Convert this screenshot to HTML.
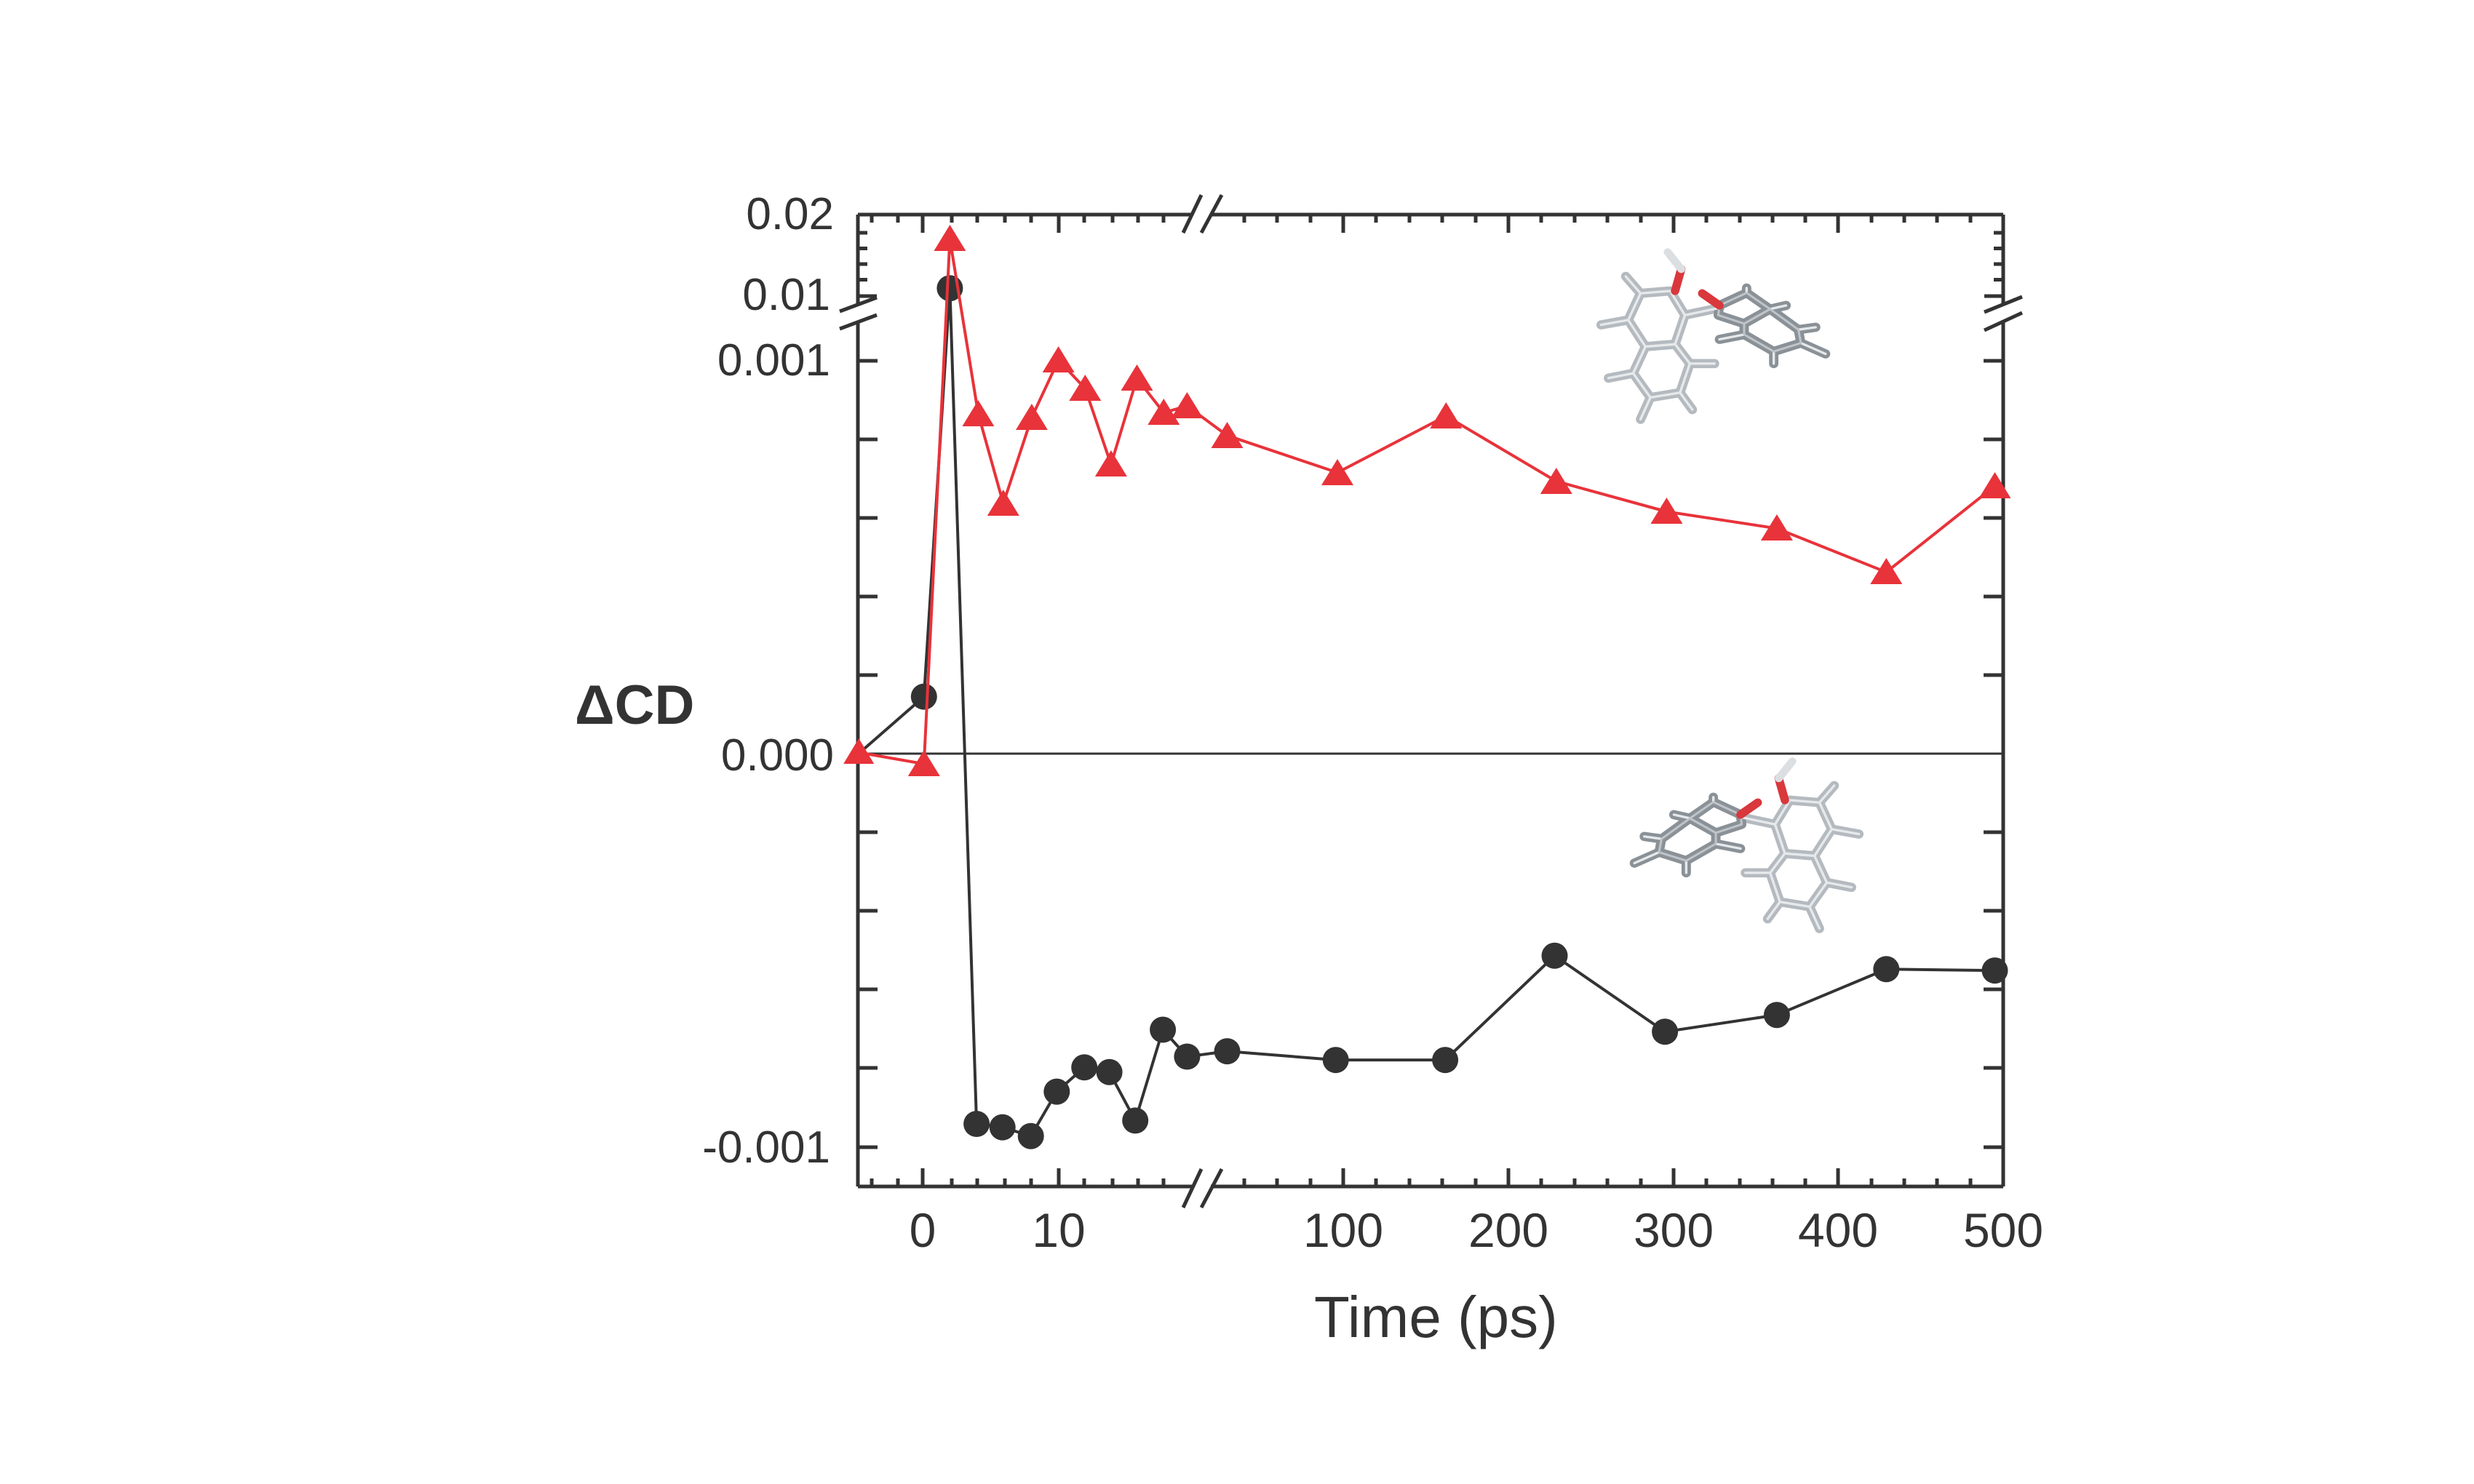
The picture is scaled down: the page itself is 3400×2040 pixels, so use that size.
<!DOCTYPE html>
<html><head><meta charset="utf-8"><style>
html,body{margin:0;padding:0;background:#fff;}
svg{display:block;}
text{font-family:"Liberation Sans",Arial,sans-serif;fill:#333;}
</style></head><body>
<svg width="3400" height="2040" viewBox="0 0 3400 2040" xmlns="http://www.w3.org/2000/svg">
<defs>
<g id="mol">
  <g fill="none" stroke-linecap="round" stroke-linejoin="round">
    <g stroke="#b4babf" stroke-width="38">
      <path d="M220,250 L340,240 L400,340 L360,460 L240,470 L170,360 Z"/>
      <path d="M240,470 L360,460 L420,540 L380,660 L260,680 L190,580 Z"/>
      <path d="M400,340 L540,310"/>
      <path d="M170,360 L60,380 M220,250 L160,180 M190,580 L90,600 M260,680 L220,770 M380,660 L430,730 M420,540 L520,540"/>
    </g>
    <g stroke="#8a9197" stroke-width="38">
      <path d="M540,300 L650,248 L745,315 L640,375 L535,340 Z"/>
      <path d="M640,375 L745,315 L860,400 L870,455 L760,490 L640,420 Z"/>
      <path d="M650,248 L650,228 M745,315 L810,300 M860,400 L930,390 M870,455 L970,500 M760,490 L760,540 M640,420 L540,440"/>
    </g>
    <g stroke="#e6e9eb" stroke-width="10">
      <path d="M220,250 L340,240 L400,340 L360,460 L240,470 L170,360 Z"/>
      <path d="M240,470 L360,460 L420,540 L380,660 L260,680 L190,580 Z"/>
      <path d="M400,340 L540,310"/>
      <path d="M170,360 L60,380 M220,250 L160,180 M190,580 L90,600 M260,680 L220,770 M380,660 L430,730 M420,540 L520,540"/>
      <path d="M650,248 L650,228 M745,315 L810,300 M860,400 L930,390 M870,455 L970,500 M760,490 L760,540 M640,420 L540,440"/>
    </g>
    <g stroke="#bfc4c9" stroke-width="9">
      <path d="M540,300 L650,248 L745,315 L640,375 L535,340 Z"/>
      <path d="M640,375 L745,315 L860,400 L870,455 L760,490 L640,420 Z"/>
    </g>
    <path d="M360,240 L385,150" stroke="#d9383c" stroke-width="34"/>
    <path d="M385,150 L330,80" stroke="#dcdfe2" stroke-width="32"/>
    <path d="M540,300 L470,250" stroke="#d9383c" stroke-width="34"/>
  </g>
</g>
</defs>

<use href="#mol" transform="translate(2180,320) scale(0.339,0.333)"/>
<use href="#mol" transform="translate(2575,1020) scale(-0.339,0.333)"/>

<g stroke="#333" stroke-width="5" fill="none">
  <path d="M1179,295 V418 M1179,441 V1631"/>
  <path d="M2753,295 V418 M2753,441 V1631"/>
  <path d="M1179,1631 H1638 M1664,1631 H2753"/>
  <path d="M1179,295 H1638 M1664,295 H2753"/>
  <path d="M1179,1036 H2753" stroke-width="3"/>
  <path d="M1154,428 L1205,409 M1154,452 L1205,433"/>
  <path d="M2727,429 L2779,408 M2727,454 L2779,430"/>
  <path d="M1626,1660 L1651,1607 M1651,1660 L1679,1607"/>
  <path d="M1626,320 L1651,268 M1651,320 L1679,268"/>
  <path d="M1179,496 h27 M1179,604 h27 M1179,712 h27 M1179,820 h27 M1179,928 h27 M1179,1144 h27 M1179,1252 h27 M1179,1360 h27 M1179,1468 h27 M1179,1577 h27"/>
  <path d="M2753,496 h-27 M2753,604 h-27 M2753,712 h-27 M2753,820 h-27 M2753,928 h-27 M2753,1144 h-27 M2753,1252 h-27 M2753,1360 h-27 M2753,1468 h-27 M2753,1577 h-27"/>
  <path d="M1179,320 h13 M1179,341.5 h13 M1179,363 h13 M1179,384.5 h13 M1179,407 h26"/>
  <path d="M2753,320 h-13 M2753,341.5 h-13 M2753,363 h-13 M2753,384.5 h-13 M2753,407 h-26"/>
  <path d="M1198,1631 v-11 M1234,1631 v-11 M1268,1631 v-25 M1308,1631 v-11 M1343,1631 v-11 M1381,1631 v-11 M1417,1631 v-11 M1455,1631 v-25 M1490,1631 v-11 M1529,1631 v-11 M1564,1631 v-11 M1599,1631 v-11"/>
  <path d="M1198,295 v11 M1234,295 v11 M1268,295 v25 M1308,295 v11 M1343,295 v11 M1381,295 v11 M1417,295 v11 M1455,295 v25 M1490,295 v11 M1529,295 v11 M1564,295 v11 M1599,295 v11"/>
  <path d="M1710,1631 v-11 M1755,1631 v-11 M1801,1631 v-11 M1846,1631 v-25 M1891,1631 v-11 M1937,1631 v-11 M1982,1631 v-11 M2028,1631 v-11 M2073,1631 v-25 M2118,1631 v-11 M2164,1631 v-11 M2209,1631 v-11 M2255,1631 v-11 M2300,1631 v-25 M2345,1631 v-11 M2391,1631 v-11 M2436,1631 v-11 M2481,1631 v-11 M2526,1631 v-25 M2572,1631 v-11 M2617,1631 v-11 M2662,1631 v-11 M2708,1631 v-11"/>
  <path d="M1710,295 v11 M1755,295 v11 M1801,295 v11 M1846,295 v25 M1891,295 v11 M1937,295 v11 M1982,295 v11 M2028,295 v11 M2073,295 v25 M2118,295 v11 M2164,295 v11 M2209,295 v11 M2255,295 v11 M2300,295 v25 M2345,295 v11 M2391,295 v11 M2436,295 v11 M2481,295 v11 M2526,295 v25 M2572,295 v11 M2617,295 v11 M2662,295 v11 M2708,295 v11"/>
</g>

<polyline fill="none" stroke="#333" stroke-width="4" points="1180,1036 1269.8,957.6 1305.4,396.2 1342.1,1545 1377.7,1549.6 1416.7,1561.7 1452.3,1500.6 1490.2,1467.3 1524.6,1473.8 1560.2,1540.4 1598.1,1415.5 1631.4,1452.5 1686.5,1445.1 1835.7,1457.1 1986.1,1457.1 2136.5,1313.8 2288.1,1418.3 2441.9,1395.2 2592.3,1332.3 2741.5,1334.1"/>
<g fill="#333">
  <circle cx="1269.8" cy="957.6" r="18"/><circle cx="1305.4" cy="396.2" r="18"/>
  <circle cx="1342.1" cy="1545" r="18"/><circle cx="1377.7" cy="1549.6" r="18"/>
  <circle cx="1416.7" cy="1561.7" r="18"/><circle cx="1452.3" cy="1500.6" r="18"/>
  <circle cx="1490.2" cy="1467.3" r="18"/><circle cx="1524.6" cy="1473.8" r="18"/>
  <circle cx="1560.2" cy="1540.4" r="18"/><circle cx="1598.1" cy="1415.5" r="18"/>
  <circle cx="1631.4" cy="1452.5" r="18"/><circle cx="1686.5" cy="1445.1" r="18"/>
  <circle cx="1835.7" cy="1457.1" r="18"/><circle cx="1986.1" cy="1457.1" r="18"/>
  <circle cx="2136.5" cy="1313.8" r="18"/><circle cx="2288.1" cy="1418.3" r="18"/>
  <circle cx="2441.9" cy="1395.2" r="18"/><circle cx="2592.3" cy="1332.3" r="18"/>
  <circle cx="2741.5" cy="1334.1" r="18"/>
</g>

<polyline fill="none" stroke="#e8333a" stroke-width="4" points="1180.2,1034.4 1269.8,1050.1 1305.4,328.6 1344.4,569.1 1378.8,692.2 1417.9,573.8 1454.6,495.1 1491.3,534 1526.9,638.5 1562.5,520.1 1599.3,567.3 1631.4,558 1686.5,598.7 1838,649.6 1987.3,571.9 2138.8,661.6 2290.4,703.3 2441.9,726.4 2592.3,786.5 2741.5,668.1"/>
<g fill="#e8333a">
  <path d="M1180.2,1015 l21,35 h-42 z"/>
  <path d="M1269.8,1031 l22,36 h-44 z"/>
  <path d="M1305.4,309 l22,36 h-44 z"/>
  <path d="M1344.4,550 l22,36 h-44 z"/>
  <path d="M1378.8,673 l22,36 h-44 z"/>
  <path d="M1417.9,555 l22,36 h-44 z"/>
  <path d="M1454.6,476 l22,36 h-44 z"/>
  <path d="M1491.3,515 l22,36 h-44 z"/>
  <path d="M1526.9,619 l22,36 h-44 z"/>
  <path d="M1562.5,501 l22,36 h-44 z"/>
  <path d="M1599.3,548 l22,36 h-44 z"/>
  <path d="M1631.4,539 l22,36 h-44 z"/>
  <path d="M1686.5,580 l22,36 h-44 z"/>
  <path d="M1838,631 l22,36 h-44 z"/>
  <path d="M1987.3,553 l22,36 h-44 z"/>
  <path d="M2138.8,643 l22,36 h-44 z"/>
  <path d="M2290.4,684 l22,36 h-44 z"/>
  <path d="M2441.9,707 l22,36 h-44 z"/>
  <path d="M2592.3,767 l22,36 h-44 z"/>
  <path d="M2741.5,649 l22,36 h-44 z"/>
</g>

<g font-size="62" text-anchor="end">
  <text x="1146" y="315">0.02</text>
  <text x="1141" y="426">0.01</text>
  <text x="1141" y="516">0.001</text>
  <text x="1146" y="1059">0.000</text>
  <text x="1141" y="1598">-0.001</text>
</g>
<g font-size="66" text-anchor="middle">
  <text x="1268" y="1714">0</text>
  <text x="1455" y="1714">10</text>
  <text x="1846" y="1714">100</text>
  <text x="2073" y="1714">200</text>
  <text x="2300" y="1714">300</text>
  <text x="2526" y="1714">400</text>
  <text x="2753" y="1714">500</text>
</g>
<text x="1806" y="1838" font-size="80">Time (ps)</text>
<text x="790" y="995" font-size="76" font-weight="bold">ΔCD</text>
</svg>
</body></html>
